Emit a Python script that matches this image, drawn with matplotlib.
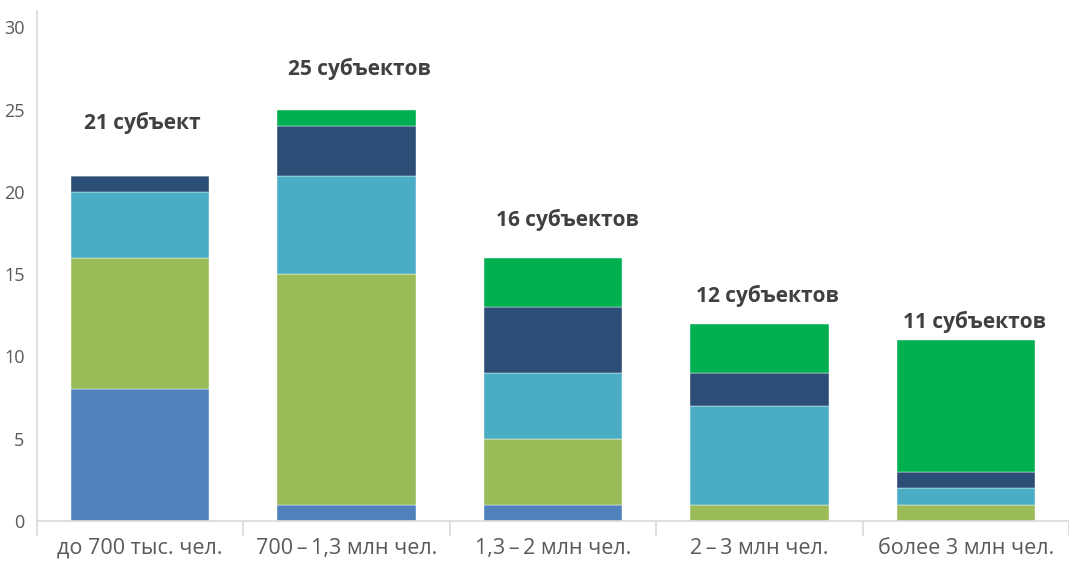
import matplotlib
matplotlib.use("Agg")
import matplotlib.pyplot as plt
import numpy as np

categories = ["до 700 тыс. чел.", "700\u2009–\u20091,3 млн чел.", "1,3\u2009–\u20092 млн чел.", "2\u2009–\u20093 млн чел.", "более 3 млн чел."]
series_1 = [8, 1, 1, 0, 0]
series_2 = [8, 14, 4, 1, 1]
series_3 = [4, 6, 4, 6, 1]
series_4 = [1, 3, 4, 2, 1]
series_5 = [0, 1, 3, 3, 8]
totals_labels = ["21 субъект", "25 субъектов", "16 субъектов", "12 субъектов", "11 субъектов"]
yticks = [0, 5, 10, 15, 20, 25, 30]

colors = ["#4F81BD", "#9BBB59", "#4BACC6", "#2C4D75", "#00B050"]
label_y = [24.2, 27.5, 18.3, 13.7, 12.1]
label_dx = [0.01, 0.06, 0.07, 0.04, 0.04]

plt.rcParams['font.family'] = ['Open Sans', 'DejaVu Sans']

fig = plt.figure(figsize=(10.69, 5.62), dpi=100)
ax = fig.add_axes([37/1069, 41/562, 1 - 37/1069, 510/562])

x = np.arange(len(categories))
bottom = np.zeros(len(categories))
for s, c in zip([series_1, series_2, series_3, series_4, series_5], colors):
    vals = np.array(s, dtype=float)
    ax.bar(x, vals, bottom=bottom, width=0.67, color=c, edgecolor="white", linewidth=0.3)
    bottom += vals

for i, t in enumerate(totals_labels):
    ax.text(x[i] + label_dx[i], label_y[i], t, ha="center", va="center",
            fontsize=15, fontweight="bold", color="#404040")

ax.set_xlim(-0.5, len(categories) - 0.5)
ax.set_ylim(0, 31)
ax.set_yticks(yticks)
ax.set_yticklabels([str(v) for v in yticks], fontsize=13, color="#595959")
ax.set_xticks(x)
ax.set_xticklabels(categories, fontsize=15.5, color="#595959")
ax.set_xticks(np.arange(-0.5, len(categories), 1.0), minor=True)
ax.tick_params(axis="x", which="major", length=0, pad=12)
ax.tick_params(axis="x", which="minor", length=11, color="#D9D9D9", width=1.2)
ax.tick_params(axis="y", length=0, pad=9)

for sp in ["top", "right"]:
    ax.spines[sp].set_visible(False)
ax.spines["left"].set_color("#D9D9D9")
ax.spines["bottom"].set_color("#D9D9D9")
ax.spines["left"].set_linewidth(1.2)
ax.spines["bottom"].set_linewidth(1.2)

fig.savefig("out.png", dpi=100)
